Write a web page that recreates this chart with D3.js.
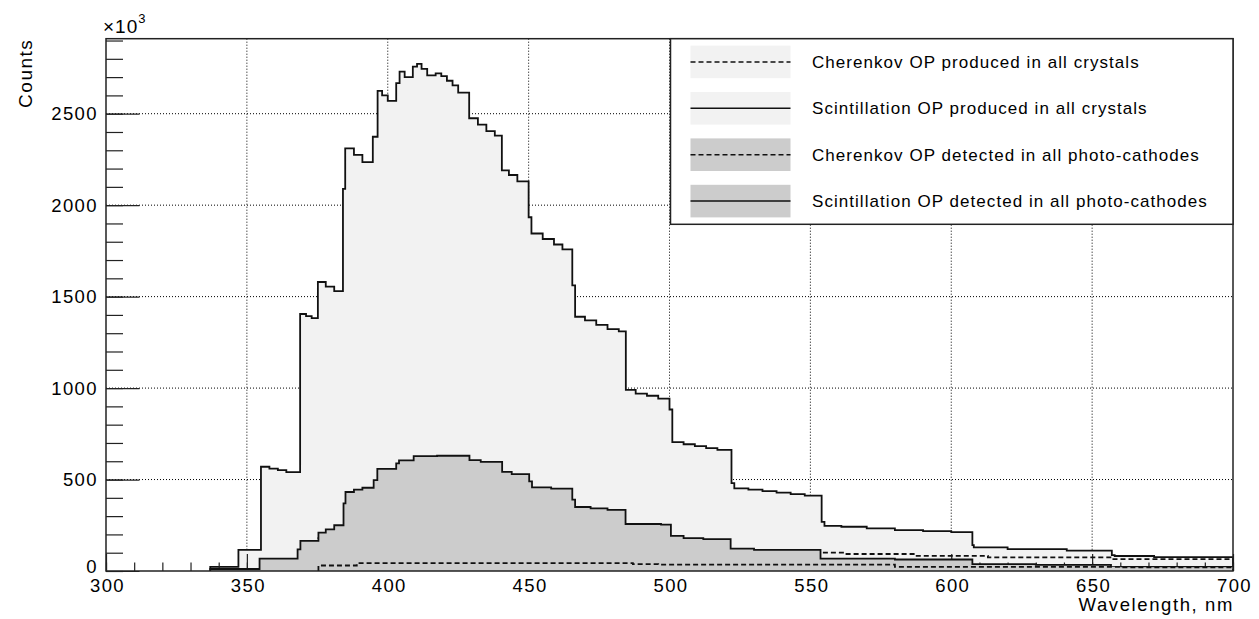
<!DOCTYPE html>
<html>
<head>
<meta charset="utf-8">
<script src="https://d3js.org/d3.v7.min.js"></script>
<style>
  body { margin: 0; background: #fff; }
  text { font-family: "Liberation Sans", Arial, sans-serif; fill: #000; }
</style>
</head>
<body>
<div id="chart"></div>
<script>
// histogram bins: edges in nm, counts in thousands
var scintProdEdges = [337, 347, 355, 358, 361, 364, 368.9, 371, 373, 375.2, 378, 381, 384.1, 384.9, 388, 391, 394.7, 396.4,
  398, 400, 403, 404.2, 406, 408.9, 410.4, 412, 414, 417, 419, 421, 423, 425, 428.9, 432, 435, 438, 440.5, 443, 446, 450,
  451, 455, 459, 462, 465.5, 466.5, 470, 474, 478, 482, 484.5, 488, 492, 496, 500, 501, 505, 509, 513, 517, 522, 523, 528,
  533, 538, 543, 548, 554, 555, 561, 570, 580, 590, 600, 607.5, 608, 620, 641, 657, 658, 672, 700];
var scintProdCounts = [23, 115, 570, 560, 551, 540, 1405, 1393, 1382, 1580, 1555, 1530, 2089, 2310, 2275, 2235, 2374, 2625,
  2600, 2570, 2667, 2730, 2700, 2757, 2772, 2745, 2710, 2720, 2705, 2680, 2655, 2615, 2475, 2440, 2405, 2380, 2190, 2165, 2130,
  1934, 1845, 1815, 1785, 1758, 1561, 1390, 1370, 1345, 1322, 1310, 990, 970, 958, 942, 883, 705, 693, 683, 672, 662, 480,
  452, 445, 437, 428, 420, 412, 269, 247, 242, 233, 224, 218, 212, 142, 129, 120, 111, 87, 82, 76];

var scintDetEdges = [337, 354.5, 368, 369, 375.4, 378, 381, 384.3, 385, 388, 391, 395, 396.3, 403, 404, 409.2, 417.5, 429,
  433, 440.6, 444, 450.2, 451.2, 458, 465.5, 466.5, 472, 478, 484.4, 497, 500.5, 505, 512, 521.7, 530, 553.6, 580, 607.5,
  630, 656.7, 700];
var scintDetCounts = [11, 68, 118, 165, 210, 228, 250, 370, 432, 445, 455, 497, 558, 588, 605, 628, 630, 606, 597, 542,
  530, 490, 457, 450, 390, 350, 342, 334, 257, 253, 192, 180, 174, 122, 115, 68, 63, 38, 34, 22];

var cherProdEdges = [375.4, 385, 400, 420, 450, 480, 500, 522, 552.7, 562.5, 587, 613, 657, 700];
var cherProdCounts = [180, 175, 165, 150, 135, 120, 110, 104, 100, 93, 83, 75, 65];

var cherDetEdges = [375.4, 389, 487, 496, 580, 660, 700];
var cherDetCounts = [30, 43, 38, 35, 23, 20];

var xMajor = [300, 350, 400, 450, 500, 550, 600, 650, 700];
var yMajor = [0, 500, 1000, 1500, 2000, 2500];
var xGrid = [350, 400, 450, 500, 550, 600, 650];
var yGrid = [500, 1000, 1500, 2000, 2500];

var legendLabels = [
  "Cherenkov OP produced in all crystals",
  "Scintillation OP produced in all crystals",
  "Cherenkov OP detected in all photo-cathodes",
  "Scintillation OP detected in all photo-cathodes"
];

var W = 1259, H = 619;
var frame = { left: 106, right: 1233, top: 38.7, bottom: 571 };
var lightFill = "#f2f2f2", darkFill = "#cccccc", dash = "5,3";

var x = d3.scaleLinear().domain([300, 700]).range([frame.left, frame.right]);
var y = d3.scaleLinear().domain([0, 2910]).range([frame.bottom, frame.top]);

var svg = d3.select("#chart").append("svg")
  .attr("width", W).attr("height", H);
svg.append("rect").attr("width", W).attr("height", H).attr("fill", "#fff");

// grid
svg.append("g").selectAll("line").data(xGrid).enter().append("line")
  .attr("x1", d => x(d)).attr("x2", d => x(d))
  .attr("y1", frame.top).attr("y2", frame.bottom)
  .attr("stroke", "#000").attr("stroke-width", 1).attr("stroke-dasharray", "1,2");
svg.append("g").selectAll("line").data(yGrid).enter().append("line")
  .attr("x1", frame.left).attr("x2", frame.right)
  .attr("y1", d => y(d)).attr("y2", d => y(d))
  .attr("stroke", "#000").attr("stroke-width", 1).attr("stroke-dasharray", "1,2");

function histPoints(edges, counts) {
  var pts = [[edges[0], 0]];
  counts.forEach(function(c, i) {
    pts.push([edges[i], c]);
    pts.push([edges[i + 1], c]);
  });
  pts.push([edges[edges.length - 1], 0]);
  return pts;
}

var area = d3.area().x(d => x(d[0])).y0(y(0)).y1(d => y(d[1]));
var line = d3.line().x(d => x(d[0])).y(d => y(d[1]));

function drawFill(edges, counts, fill) {
  svg.append("path").attr("d", area(histPoints(edges, counts))).attr("fill", fill);
}
function drawLine(edges, counts, dashed) {
  svg.append("path").attr("d", line(histPoints(edges, counts)))
    .attr("fill", "none").attr("stroke", "#111").attr("stroke-width", 1.8)
    .attr("stroke-linejoin", "miter")
    .attr("stroke-dasharray", dashed ? dash : null);
}

drawFill(scintProdEdges, scintProdCounts, lightFill);
drawLine(scintProdEdges, scintProdCounts, false);

// tick marks (drawn after the first histogram, as ROOT does)
var tickStyle = function(g) {
  g.select(".domain").remove();
  g.selectAll("line").attr("stroke", "#222").attr("stroke-width", 1.2);
};
svg.append("g").attr("transform", "translate(" + frame.left + ",0)")
  .call(d3.axisRight(y).tickValues(d3.range(0, 2901, 100)).tickSize(17).tickFormat(""))
  .call(tickStyle);
svg.append("g").attr("transform", "translate(" + frame.left + ",0)")
  .call(d3.axisRight(y).tickValues(yMajor).tickSize(33.5).tickFormat(""))
  .call(tickStyle);
svg.append("g").attr("transform", "translate(0," + frame.bottom + ")")
  .call(d3.axisTop(x).tickValues(d3.range(300, 701, 10)).tickSize(8.5).tickFormat(""))
  .call(tickStyle);
svg.append("g").attr("transform", "translate(0," + frame.bottom + ")")
  .call(d3.axisTop(x).tickValues(xMajor).tickSize(17).tickFormat(""))
  .call(tickStyle);

drawLine(cherProdEdges, cherProdCounts, true);
drawFill(scintDetEdges, scintDetCounts, darkFill);
drawLine(scintDetEdges, scintDetCounts, false);
drawFill(cherDetEdges, cherDetCounts, darkFill);
drawLine(cherDetEdges, cherDetCounts, true);

// frame
svg.append("rect")
  .attr("x", frame.left).attr("y", frame.top)
  .attr("width", frame.right - frame.left).attr("height", frame.bottom - frame.top)
  .attr("fill", "none").attr("stroke", "#222").attr("stroke-width", 1.5);

// tick labels (ROOT's rendering spaces glyphs a little wider)
var labelStyle = function(g) {
  g.select(".domain").remove();
  g.selectAll("line").remove();
  g.selectAll("text").attr("font-size", 18.5).attr("letter-spacing", 1.4)
    .attr("font-family", "Liberation Sans, Arial, sans-serif").attr("fill", "#000");
};
var yLabels = svg.append("g").attr("transform", "translate(" + (frame.left - 8) + ",0)")
  .call(d3.axisLeft(y).tickValues(yMajor).tickSize(0).tickPadding(0).tickFormat(d3.format("d")))
  .call(labelStyle);
// ROOT nudges the "0" label up, away from the x axis labels
yLabels.selectAll("text").filter(d => d === 0).attr("y", -4);
svg.append("g").attr("transform", "translate(1," + (frame.bottom + 8) + ")")
  .call(d3.axisBottom(x).tickValues(xMajor).tickSize(0).tickPadding(0).tickFormat(d3.format("d")))
  .call(labelStyle);

// axis titles
svg.append("text").attr("transform", "translate(32," + frame.top + ") rotate(-90)")
  .attr("text-anchor", "end").attr("font-size", 19).attr("letter-spacing", 1.5).text("Counts");
svg.append("text").attr("x", frame.right + 1).attr("y", 611)
  .attr("text-anchor", "end").attr("font-size", 18.5).attr("letter-spacing", 1.6).text("Wavelength, nm");
var expo = svg.append("text").attr("x", 103).attr("y", 33).attr("font-size", 19).attr("letter-spacing", 1);
expo.append("tspan").text("\u00d710");
expo.append("tspan").attr("dy", -10).attr("font-size", 13).text("3");

// legend
var legend = { x0: 670.5, y0: frame.top, x1: frame.right, y1: 224.3 };
svg.append("rect").attr("x", legend.x0).attr("y", legend.y0)
  .attr("width", legend.x1 - legend.x0).attr("height", legend.y1 - legend.y0)
  .attr("fill", "#fff").attr("stroke", "#222").attr("stroke-width", 1.5);
var rowH = (legend.y1 - legend.y0) / legendLabels.length;
var legendFills = [lightFill, lightFill, darkFill, darkFill];
var legendDashed = [true, false, true, false];
legendLabels.forEach(function(label, i) {
  var cy = legend.y0 + rowH * (i + 0.5);
  svg.append("rect").attr("x", 690.5).attr("y", cy - 16.3).attr("width", 100).attr("height", 32.6)
    .attr("fill", legendFills[i]);
  svg.append("line").attr("x1", 690.5).attr("x2", 790.5).attr("y1", cy).attr("y2", cy)
    .attr("stroke", "#111").attr("stroke-width", 1.5)
    .attr("stroke-dasharray", legendDashed[i] ? dash : null);
  svg.append("text").attr("x", 812).attr("y", cy).attr("dy", "0.35em")
    .attr("font-size", 17).attr("letter-spacing", 1.05).text(label);
});
</script>
</body>
</html>
